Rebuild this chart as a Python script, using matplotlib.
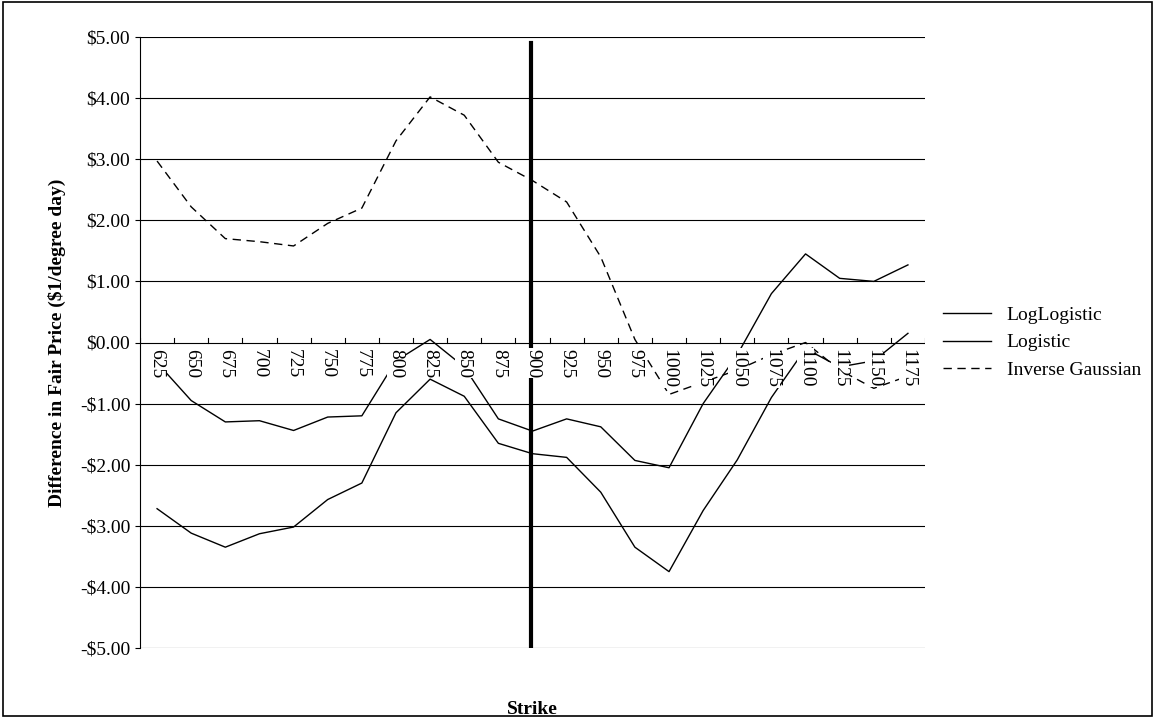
import matplotlib
matplotlib.use("Agg")
import matplotlib.pyplot as plt
from matplotlib.patches import Rectangle

strikes = [625,650,675,700,725,750,775,800,825,850,875,900,925,950,975,1000,1025,1050,1075,1100,1125,1150,1175]
loglogistic = [-0.33,-0.95,-1.3,-1.28,-1.44,-1.22,-1.2,-0.3,0.05,-0.4,-1.25,-1.45,-1.25,-1.38,-1.93,-2.05,-1.0,-0.2,0.8,1.45,1.05,1.0,1.27]
logistic = [-2.72,-3.12,-3.35,-3.13,-3.02,-2.57,-2.3,-1.15,-0.6,-0.88,-1.65,-1.82,-1.88,-2.45,-3.35,-3.75,-2.75,-1.92,-0.9,-0.1,-0.4,-0.3,0.15]
inv_gauss = [2.97,2.22,1.7,1.65,1.58,1.95,2.2,3.3,4.02,3.72,2.95,2.65,2.3,1.4,0.05,-0.85,-0.65,-0.45,-0.2,0.0,-0.45,-0.75,-0.55]
yticks = [5,4,3,2,1,0,-1,-2,-3,-4,-5]

plt.rcParams['font.family'] = ['Liberation Serif', 'DejaVu Serif']
fig = plt.figure(figsize=(11.55, 7.2), dpi=100)
fig.patches.append(Rectangle((0.003,0.005),0.994,0.992,transform=fig.transFigure,fill=False,ec='black',lw=1.2))
ax = fig.add_axes([140/1155, 1-648/720, 785/1155, 611/720])
x = list(range(len(strikes)))
ax.plot(x, loglogistic, color='black', lw=1, label='LogLogistic')
ax.plot(x, logistic, color='black', lw=1, label='Logistic')
ax.plot(x, inv_gauss, color='black', lw=1, ls=(0,(6,4)), label='Inverse Gaussian')
ax.set_xlim(-0.5, len(strikes)-0.5)
ax.set_ylim(-5, 5)
ax.set_yticks(yticks)
ax.set_yticklabels([("-$%.2f" % -v) if v < 0 else ("$%.2f" % v) for v in yticks], fontsize=14)
for v in yticks:
    ax.axhline(v, color='black', lw=0.8, zorder=0)
ax.axvline(10.95, ymin=0.0, ymax=0.99, color='black', lw=3)
ax.set_xticks([])
for i, s in enumerate(strikes):
    ax.text(i, -0.1, str(s), rotation=270, ha='center', va='top', fontsize=14,
            bbox=dict(facecolor='white', edgecolor='none', pad=0.3), zorder=3)
for i in range(len(strikes)+1):
    ax.plot([i-0.5, i-0.5], [0, 0.08], color='black', lw=0.8)
for sp in ['top', 'right', 'bottom']:
    ax.spines[sp].set_visible(False)
ax.set_ylabel('Difference in Fair Price ($1/degree day)', fontsize=14, fontweight='bold', labelpad=10)
ax.set_xlabel('Strike', fontsize=14, fontweight='bold', labelpad=38)
ax.legend(loc='center left', bbox_to_anchor=(1.0, 0.5), frameon=False, fontsize=14, handlelength=2.5)
fig.savefig('out.png')
